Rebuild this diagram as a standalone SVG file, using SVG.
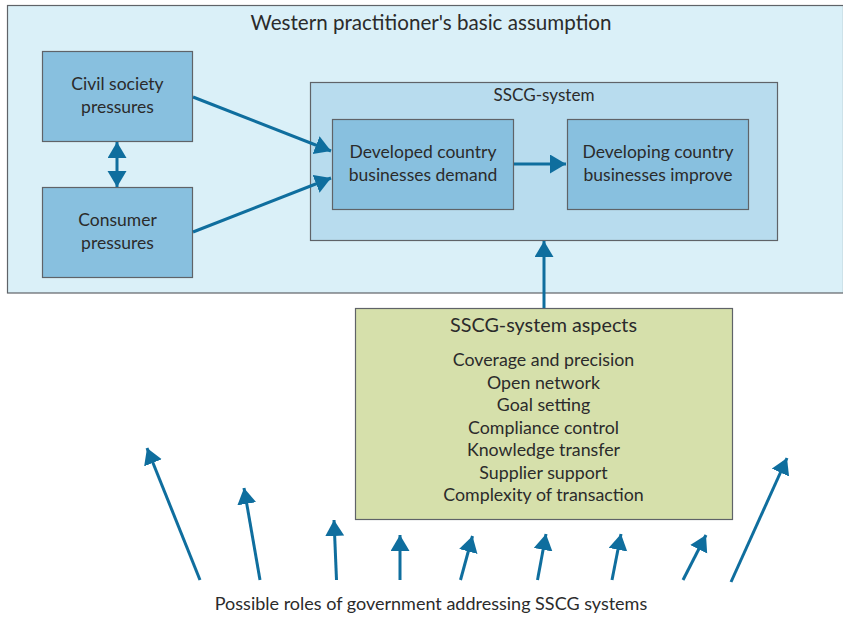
<svg xmlns="http://www.w3.org/2000/svg" width="843" height="619" viewBox="0 0 843 619">
<defs>
<style>
text{font-family:"Lato","Open Sans",sans-serif;fill:#2b2b2b;text-anchor:middle}
.box{stroke:#5f6368;stroke-width:1.2}
.node{fill:#88c0df}
.t16{font-size:17.5px}
.t17{font-size:17.8px}
.t18{font-size:19.8px}
.con{stroke:#0f6e9e;stroke-width:3;fill:none}
</style>
<marker id="ah" markerUnits="userSpaceOnUse" markerWidth="20" markerHeight="22" refX="16" refY="9.5" orient="auto">
<path d="M0,0 L16,9.5 L0,19 Z" fill="#0f6e9e"/>
</marker>
<marker id="ahs" markerUnits="userSpaceOnUse" markerWidth="20" markerHeight="22" refX="16" refY="9.5" orient="auto-start-reverse">
<path d="M0,0 L16,9.5 L0,19 Z" fill="#0f6e9e"/>
</marker>
</defs>
<rect width="843" height="619" fill="#ffffff"/>
<g id="outer">
<rect class="box" x="7.5" y="5.5" width="836" height="287.5" fill="#daf0f8"/>
<text x="431" y="30" style="font-size:20.6px">Western practitioner's basic assumption</text>
</g>
<g id="sscg-system">
<rect class="box" x="310.5" y="82.5" width="467" height="158" fill="#b8dcee"/>
<text x="544" y="101" style="font-size:17.1px">SSCG-system</text>
</g>
<g id="civil">
<rect class="box node" x="42.5" y="51.5" width="150" height="90"/>
<text class="t16" x="117.5" y="90">Civil society</text>
<text class="t16" x="117.5" y="112.5">pressures</text>
</g>
<g id="consumer">
<rect class="box node" x="42.5" y="187.5" width="150" height="90"/>
<text class="t16" x="117.5" y="226">Consumer</text>
<text class="t16" x="117.5" y="249">pressures</text>
</g>
<g id="developed">
<rect class="box node" x="332.5" y="119.5" width="181" height="90"/>
<text class="t16" x="423" y="158">Developed country</text>
<text class="t16" x="423" y="180.5">businesses demand</text>
</g>
<g id="developing">
<rect class="box node" x="567.5" y="119.5" width="181" height="90"/>
<text class="t16" x="658" y="158">Developing country</text>
<text class="t16" x="658" y="180.5">businesses improve</text>
</g>
<g id="aspects">
<rect class="box" x="355.5" y="308.5" width="377" height="211" fill="#d6e0ab"/>
<text class="t18" x="543.5" y="332">SSCG-system aspects</text>
<text class="t17" x="543.5" y="366">Coverage and precision</text>
<text class="t17" x="543.5" y="388.5">Open network</text>
<text class="t17" x="543.5" y="411">Goal setting</text>
<text class="t17" x="543.5" y="433.5">Compliance control</text>
<text class="t17" x="543.5" y="456">Knowledge transfer</text>
<text class="t17" x="543.5" y="478.5">Supplier support</text>
<text class="t17" x="543.5" y="501">Complexity of transaction</text>
</g>
<g id="roles">
<text x="431" y="610" style="font-size:18px">Possible roles of government addressing SSCG systems</text>
</g>
<g id="connectors">
<line class="con" x1="117" y1="142" x2="117" y2="187" marker-start="url(#ahs)" marker-end="url(#ah)"/>
<line class="con" x1="193" y1="97" x2="331" y2="151" marker-end="url(#ah)"/>
<line class="con" x1="193" y1="232" x2="331" y2="178" marker-end="url(#ah)"/>
<line class="con" x1="514" y1="164" x2="566" y2="164" marker-end="url(#ah)"/>
<line class="con" x1="544" y1="308" x2="544" y2="241" marker-end="url(#ah)"/>
<line class="con" x1="200" y1="580" x2="147" y2="448" marker-end="url(#ah)"/>
<line class="con" x1="260" y1="580" x2="244" y2="488" marker-end="url(#ah)"/>
<line class="con" x1="336.5" y1="580" x2="334" y2="520" marker-end="url(#ah)"/>
<line class="con" x1="400" y1="580" x2="400" y2="535" marker-end="url(#ah)"/>
<line class="con" x1="460.5" y1="580" x2="472.5" y2="536" marker-end="url(#ah)"/>
<line class="con" x1="537.5" y1="580" x2="546" y2="534" marker-end="url(#ah)"/>
<line class="con" x1="612" y1="580" x2="621" y2="534" marker-end="url(#ah)"/>
<line class="con" x1="683" y1="580" x2="706" y2="535" marker-end="url(#ah)"/>
<line class="con" x1="731" y1="582" x2="787" y2="458" marker-end="url(#ah)"/>
</g>
</svg>
